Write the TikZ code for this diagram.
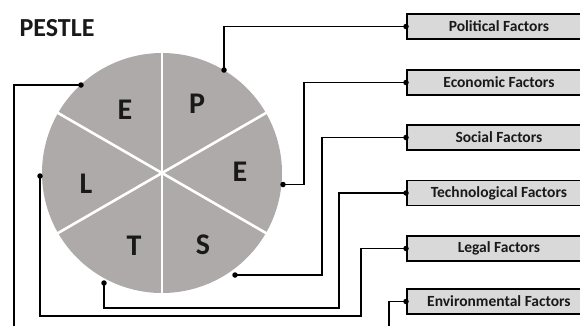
\documentclass[tikz,border=0pt]{standalone}
\usepackage{fontspec}
\setmainfont{Carlito}
\begin{document}
\begin{tikzpicture}[x=1pt,y=-1pt,
  factor/.style={draw=black, line width=1.8pt, fill=boxGray, minimum width=184, minimum height=25,
    anchor=west, inner sep=0pt, font=\bfseries\fontsize{15.5}{16}\selectfont, text=black!90},
  letter/.style={font=\bfseries\fontsize{30}{32}\selectfont, text=black!90},
  link/.style={line width=1.3pt, black},
  pin/.style={circle, fill=black, inner sep=0pt, minimum size=5.5pt}]
\definecolor{pieGray}{HTML}{ADAAA9}
\definecolor{boxGray}{HTML}{D9D9D9}
\useasboundingbox (0,0) rectangle (580,325);
\clip (0,0) rectangle (580,325);
\fill[white] (0,0) rectangle (580,325);

% title
\node[font=\bfseries\fontsize{26}{28}\selectfont, text=black!90] (title) at (57,28) {PESTLE};

% pie of six equal sectors
\coordinate (c) at (162,173);
\foreach \a in {-90,-30,30,90,150,210}{
  \fill[pieGray] (c) -- ++(\a:120) arc[start angle=\a, end angle=\a+60, radius=120] -- cycle;
}
\foreach \a in {90,30,-30,-90,-150,150}{
  \draw[white, line width=2.6pt] (c) -- ++(-\a:121);
}

% sector letters
\node[letter] (lP) at (197,104) {P};
\node[letter] (lE1) at (240,172) {E};
\node[letter] (lS) at (203,245) {S};
\node[letter] (lT) at (134,246) {T};
\node[letter] (lL) at (86,184) {L};
\node[letter] (lE2) at (125,110) {E};

% factor boxes
\node[factor] (pol) at (406,26.5) {Political Factors};
\node[factor] (eco) at (406,82.5) {Economic Factors};
\node[factor] (soc) at (406,137.5) {Social Factors};
\node[factor] (tec) at (406,193) {Technological Factors};
\node[factor] (leg) at (406,248.5) {Legal Factors};
\node[factor] (env) at (406,301.5) {Environmental Factors};

% anchor points on the rim
\node[pin] (pP) at (224,70) {};
\node[pin] (pE1) at (283,184.5) {};
\node[pin] (pS) at (235,275) {};
\node[pin] (pT) at (104,283) {};
\node[pin] (pL) at (40,176) {};
\node[pin] (pE2) at (81,85) {};

% pins on the boxes
\foreach \b in {pol,eco,soc,tec,leg,env}{
  \node[pin] (\b-pin) at (\b.west) {};
}

% connectors
\draw[link] (pol.west) -| (pP.center);
\draw[link] (eco.west) -- ++(-102,0) |- (pE1.center);
\draw[link] (soc.west) -- ++(-84,0) |- (pS.center);
\draw[link] (tec.west) -- ++(-67,0) |- (104,308) -- (pT.center);
\draw[link] (leg.west) -- ++(-45,0) |- (40,316) -- (pL.center);
\draw[link] (env.west) -- ++(-17,0) -- (389,340) -| (14,85) -- (pE2.center);
\end{tikzpicture}
\end{document}
